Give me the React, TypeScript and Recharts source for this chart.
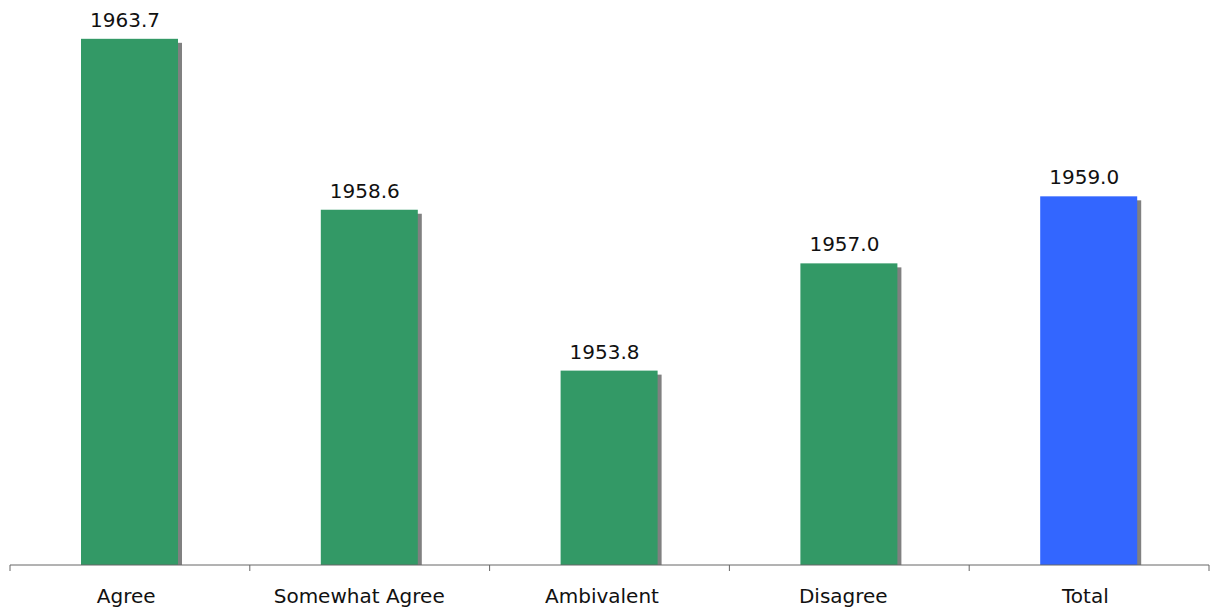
import React from "react";
import { BarChart, Bar, XAxis, YAxis, Cell, LabelList } from "recharts";

// ---- data ----
const categories = ["Agree", "Somewhat Agree", "Ambivalent", "Disagree", "Total"];
const values = [1963.7, 1958.6, 1953.8, 1957.0, 1959.0];

const GREEN = "#339966";
const BLUE = "#3366FF";
const SHADOW = "#808080";
const AXIS = "#666666";
const FONT = "'DejaVu Sans', Verdana, sans-serif";
const FS = 20;
const TICK_GAP = 24;

const rows = categories.map((name, i) => ({ name, value: values[i] }));

// text in the original sits a little left of centre, more for longer strings
const shift = (s: string) => -0.75 * s.length;

// bar with a grey drop shadow to the right
function ShadowBar(props: any) {
    const { x, y, width, height, fill } = props;
    if (!width || !height) return null;
    return (
        <g>
            <rect x={x + 4} y={y + 4} width={width} height={Math.max(0, height - 4)} fill={SHADOW} />
            <rect x={x} y={y} width={width} height={height} fill={fill} />
        </g>
    );
}

// category label + tick marks on the band edges
function EdgeTick(props: any) {
    const { x, y, payload, index, visibleTicksCount } = props;
    const half = payload?.offset || 120;
    const top = y - TICK_GAP;
    const isLast = index === visibleTicksCount - 1;
    const label = String(payload.value);
    return (
        <g>
            <line x1={x - half} y1={top} x2={x - half} y2={top + 6} stroke={AXIS} />
            {isLast && <line x1={x + half} y1={top} x2={x + half} y2={top + 6} stroke={AXIS} />}
            <text x={x + shift(label)} y={y} dy="0.71em" textAnchor="middle" fontSize={FS} fontFamily={FONT} fill="#111">
                {label}
            </text>
        </g>
    );
}

function ValueLabel(props: any) {
    const { x, y, width, value } = props;
    const label = Number(value).toFixed(1);
    return (
        <text x={x + width / 2 + shift(label)} y={y - 12} textAnchor="middle" fontSize={FS} fontFamily={FONT} fill="#111">
            {label}
        </text>
    );
}

export default function App() {
    return (
        <div style={{ position: "absolute", left: 0, top: 0, background: "#fff" }}>
            <BarChart
                width={1210}
                height={610}
                data={rows}
                margin={{ top: 12, right: 1, bottom: 0, left: 10 }}
                barSize={97}
            >
                <XAxis
                    dataKey="name"
                    height={45}
                    tickLine={false}
                    tickSize={0}
                    tickMargin={TICK_GAP}
                    axisLine={{ stroke: AXIS }}
                    interval={0}
                    tick={<EdgeTick />}
                />
                <YAxis hide domain={[1948, 1964.5]} allowDataOverflow />
                <Bar dataKey="value" isAnimationActive={false} shape={<ShadowBar />}>
                    {rows.map((r) => (
                        <Cell key={r.name} fill={r.name === "Total" ? BLUE : GREEN} />
                    ))}
                    <LabelList dataKey="value" content={<ValueLabel />} />
                </Bar>
            </BarChart>
        </div>
    );
}
